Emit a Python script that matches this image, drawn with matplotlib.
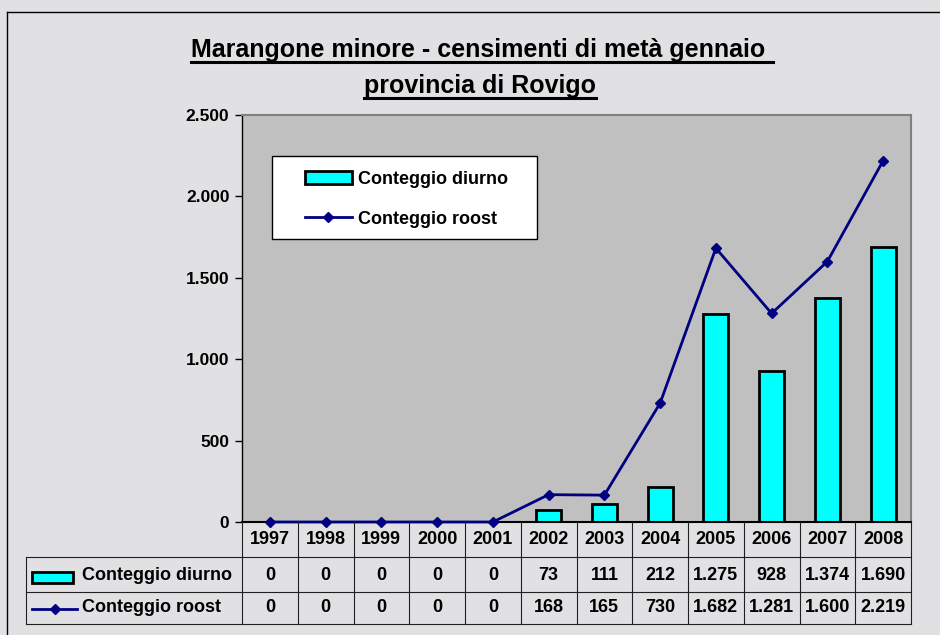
import matplotlib
matplotlib.use("Agg")
import matplotlib.pyplot as plt
import matplotlib.transforms as mtransforms
from matplotlib.patches import Rectangle
from matplotlib.lines import Line2D
from matplotlib.ticker import FuncFormatter, MultipleLocator

plt.rcParams['font.family'] = ['Liberation Sans', 'DejaVu Sans']
plt.rcParams['font.weight'] = 'bold'

# dati dei censimenti
anni = ['1997', '1998', '1999', '2000', '2001', '2002', '2003', '2004',
        '2005', '2006', '2007', '2008']
diurno = [0, 0, 0, 0, 0, 73, 111, 212, 1275, 928, 1374, 1690]
roost = [0, 0, 0, 0, 0, 168, 165, 730, 1682, 1281, 1600, 2219]
serie = ['Conteggio diurno', 'Conteggio roost']
titolo = ['Marangone minore - censimenti di metà gennaio ', 'provincia di Rovigo']

CIANO = '#00ffff'
BLU = '#000080'
W, H = 940, 635


def fx(px):
    return px / W


def fy(py):
    return 1 - py / H


def migliaia(v, pos=None):
    return f"{int(v):,}".replace(",", ".")


fig = plt.figure(figsize=(9.4, 6.35), dpi=100)
fig.patch.set_facecolor('#e1e1e3')

ax = fig.add_axes([fx(242), fy(522), fx(911) - fx(242), fy(115) - fy(522)])
ax.set_facecolor('#c0c0c0')

x = list(range(len(anni)))
barre = ax.bar(x, diurno, width=0.45, color=CIANO, edgecolor='black', linewidth=2,
               label=serie[0], zorder=2)
linea, = ax.plot(x, roost, color=BLU, lw=2, marker='D', ms=5, label=serie[1],
                 zorder=3, clip_on=False)

ax.set_xlim(-0.5, len(anni) - 0.5)
ax.set_ylim(0, 2500)
ax.yaxis.set_major_locator(MultipleLocator(500))
ax.yaxis.set_major_formatter(FuncFormatter(migliaia))
ax.tick_params(axis='y', length=5, width=1, pad=4, labelsize=12.5)
ax.set_xticks([])
for s in ['top', 'right']:
    ax.spines[s].set_color('#808080')
    ax.spines[s].set_linewidth(1.5)
ax.spines['left'].set_linewidth(1)
ax.spines['bottom'].set_linewidth(1.5)

# tabella dati sotto il grafico
tr = mtransforms.blended_transform_factory(ax.transData, fig.transFigure)
grigio = '#202020'
for i in range(len(anni) + 1):
    fig.add_artist(Line2D([i - 0.5, i - 0.5], [fy(522), fy(624)],
                          transform=tr, color=grigio, lw=0.8))
for py in [557, 592, 624]:
    fig.add_artist(Line2D([fx(26), fx(911)], [fy(py), fy(py)], color=grigio, lw=0.8))
fig.add_artist(Line2D([fx(26), fx(26)], [fy(557), fy(624)], color=grigio, lw=0.8))

for i, anno in enumerate(anni):
    fig.text(i, fy(540), anno, transform=tr, ha='center', va='center', fontsize=13)
    fig.text(i, fy(576), migliaia(diurno[i]), transform=tr, ha='center',
             va='center', fontsize=13)
    fig.text(i, fy(608), migliaia(roost[i]), transform=tr, ha='center',
             va='center', fontsize=13)

fig.text(fx(82), fy(576), serie[0], ha='left', va='center', fontsize=13)
fig.text(fx(82), fy(608), serie[1], ha='left', va='center', fontsize=13)
fig.add_artist(Rectangle((fx(32), fy(583)), fx(41), 11 / H, facecolor=CIANO,
                         edgecolor='black', lw=2, transform=fig.transFigure))
fig.add_artist(Line2D([fx(32), fx(77)], [fy(609), fy(609)], color=BLU, lw=2))
fig.add_artist(Line2D([fx(54.5)], [fy(609)], color=BLU, marker='D', ms=5))

# legenda
fig.add_artist(Rectangle((fx(272), fy(239)), fx(265), 83 / H, facecolor='white',
                         edgecolor='black', lw=1, transform=fig.transFigure, zorder=5))
leg = fig.legend([barre, linea], serie, loc='upper left',
                 bbox_to_anchor=(fx(305), fy(171)), borderaxespad=0,
                 frameon=False, borderpad=0, handlelength=2.6, handletextpad=0.35,
                 labelspacing=1.25, fontsize=13, numpoints=1)
leg.set_zorder(6)

# titolo sottolineato
t1 = fig.text(fx(482), fy(57), titolo[0], ha='center', va='baseline', fontsize=18)
t2 = fig.text(fx(480), fy(93), titolo[1], ha='center', va='baseline', fontsize=18)

# bordo esterno
fig.add_artist(Line2D([fx(7), fx(7)], [fy(12), 0], color='black', lw=1))
fig.add_artist(Line2D([fx(7), 1], [fy(12), fy(12)], color='black', lw=1))

fig.canvas.draw()
r = fig.canvas.get_renderer()
for t, py in [(t1, 62), (t2, 98)]:
    bb = t.get_window_extent(r)
    fig.add_artist(Line2D([bb.x0 / W, bb.x1 / W], [fy(py), fy(py)],
                          color='black', lw=2.2))

fig.savefig('out.png', dpi=100, facecolor=fig.get_facecolor())
